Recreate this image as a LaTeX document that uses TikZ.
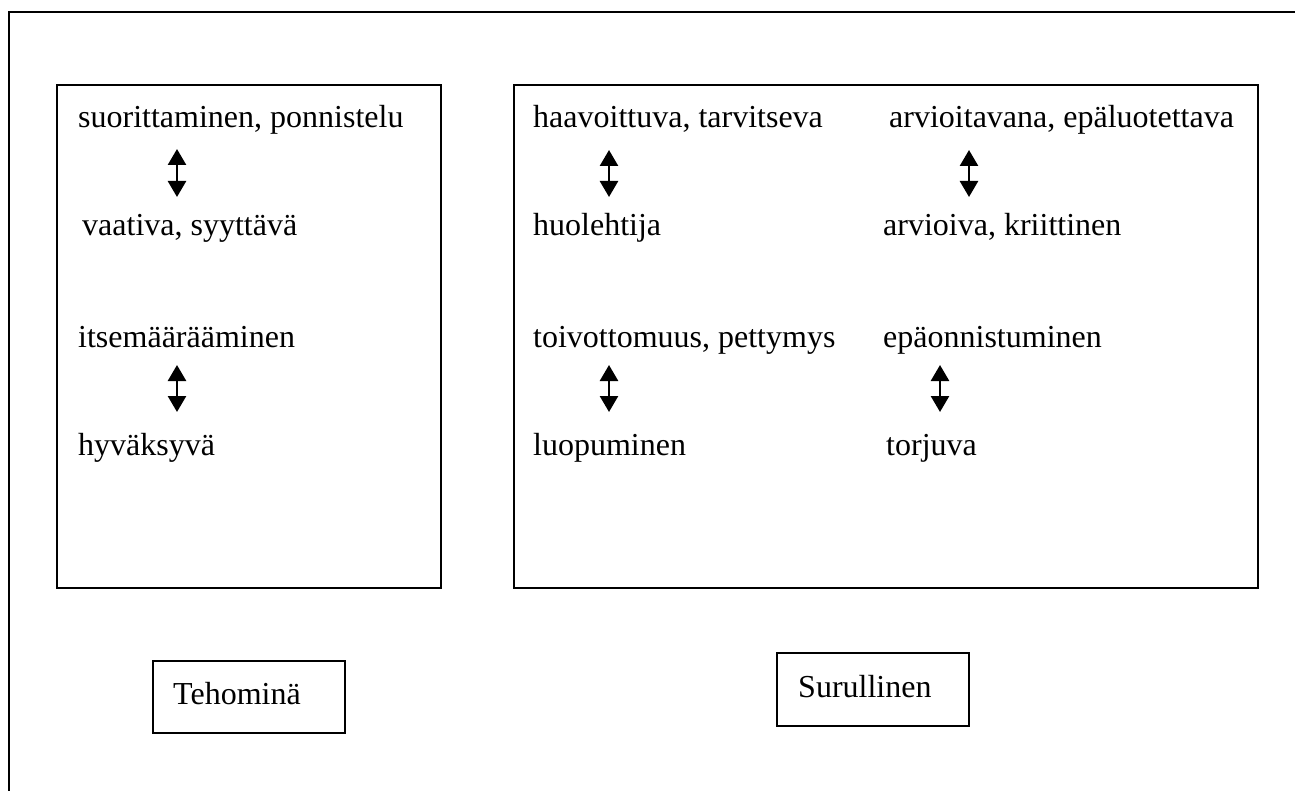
\documentclass[tikz,border=0pt]{standalone}
\usepackage{fontspec}
\setmainfont{Liberation Serif}
\usetikzlibrary{arrows.meta}
\begin{document}
\begin{tikzpicture}[x=1pt,y=-1pt,
  frame/.style={draw=black,line width=1.8pt},
  boxnode/.style={draw=black,line width=1.8pt,inner sep=0pt},
  txt/.style={anchor=base west,inner sep=0pt,font=\fontsize{32}{38}\selectfont},
  dblarrow/.style={line width=2.6pt,{Triangle[length=16pt,width=18pt]}-{Triangle[length=16pt,width=18pt]}}
]
\useasboundingbox (0,0) rectangle (1295,791);
% outer frame (only top and left visible)
\coordinate (fbl) at (9,791);
\coordinate (ftl) at (9,12);
\coordinate (ftr) at (1295,12);
\draw[frame] (fbl) -- (ftl) -- (ftr);
% main boxes
\node[boxnode,minimum width=384pt,minimum height=503pt] (leftbox) at (249,336.5) {};
\node[boxnode,minimum width=744pt,minimum height=503pt] (rightbox) at (886,336.5) {};
% left box texts
\node[txt] (t1) at (78,128) {suorittaminen, ponnistelu};
\node[txt] (t2) at (82,236) {vaativa, syyttävä};
\node[txt] (t3) at (78,348) {itsemäärääminen};
\node[txt] (t4) at (78,455) {hyväksyvä};
% right box texts
\node[txt] (r1) at (533,128) {haavoittuva, tarvitseva};
\node[txt] (r2) at (533,236) {huolehtija};
\node[txt] (r3) at (533,348) {toivottomuus, pettymys};
\node[txt] (r4) at (533,455) {luopuminen};
\node[txt] (s1) at (889,128) {arvioitavana, epäluotettava};
\node[txt] (s2) at (883,236) {arvioiva, kriittinen};
\node[txt] (s3) at (883,348) {epäonnistuminen};
\node[txt] (s4) at (886,455) {torjuva};
% arrows
\coordinate (a1t) at (177,149); \coordinate (a1b) at (177,197);
\coordinate (a2t) at (177,365); \coordinate (a2b) at (177,412);
\coordinate (a3t) at (609,150); \coordinate (a3b) at (609,197);
\coordinate (a4t) at (609,365); \coordinate (a4b) at (609,412);
\coordinate (a5t) at (969,150); \coordinate (a5b) at (969,197);
\coordinate (a6t) at (940,365); \coordinate (a6b) at (940,412);
\draw[dblarrow] (a1t) -- (a1b);
\draw[dblarrow] (a2t) -- (a2b);
\draw[dblarrow] (a3t) -- (a3b);
\draw[dblarrow] (a4t) -- (a4b);
\draw[dblarrow] (a5t) -- (a5b);
\draw[dblarrow] (a6t) -- (a6b);
% label boxes
\node[boxnode,minimum width=192pt,minimum height=72pt] (tehobox) at (249,697) {};
\node[txt] (teho) at (173,704) {Tehominä};
\node[boxnode,minimum width=192pt,minimum height=73pt] (surubox) at (873,689.5) {};
\node[txt] (suru) at (798,697) {Surullinen};
\end{tikzpicture}
\end{document}
